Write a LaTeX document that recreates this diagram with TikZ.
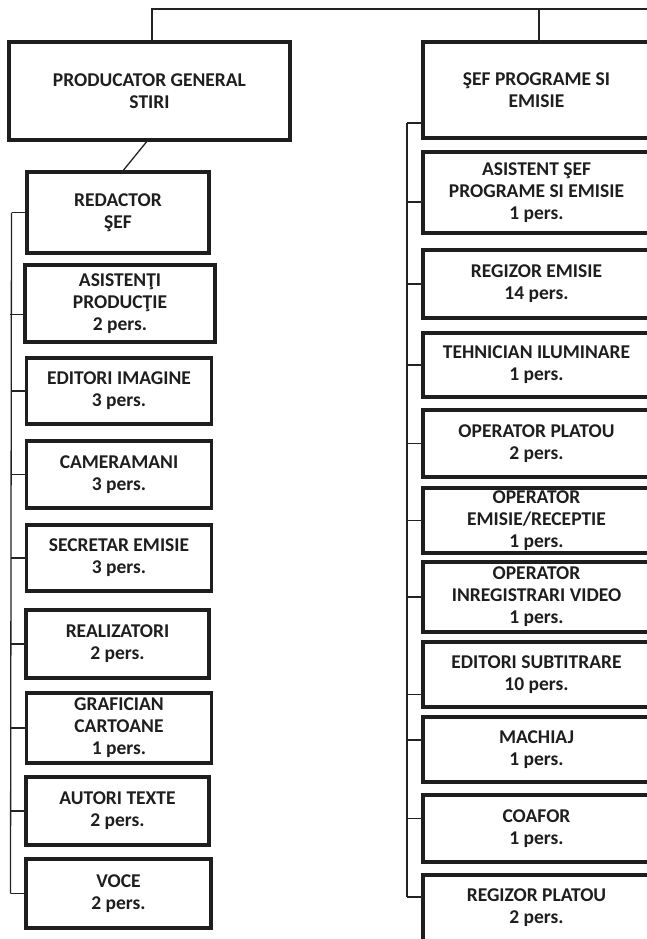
\documentclass[tikz,border=0pt]{standalone}
\usepackage{fontspec}
\setmainfont{Carlito}
\definecolor{boxc}{RGB}{30,30,30}
\definecolor{txtc}{RGB}{30,30,30}
\definecolor{linec}{RGB}{35,35,35}
\begin{document}
\begin{tikzpicture}[x=1pt,y=-1pt,
  box/.style={draw=boxc, line width=3.2pt, outer sep=0pt, inner sep=0pt,
    align=center, text=txtc, font=\bfseries\fontsize{19.5}{22}\selectfont},
  lbox/.style={box, minimum width=185pt},
  rbox/.style={box, minimum width=227pt},
  conn/.style={draw=linec, line width=1.3pt}]
\useasboundingbox (0,0) rectangle (646,939);
\fill[white] (0,0) rectangle (646,939);

% top level
\node[box, minimum width=281pt, minimum height=98pt] (prod) at (149.5,91) {PRODUCATOR GENERAL\\STIRI};
\node[rbox, minimum height=96pt] (sef) at (536.5,90) {ŞEF PROGRAME SI\\EMISIE};

% left column
\node[lbox, minimum width=182pt, minimum height=81pt] (redactor) at (118,212.5) {REDACTOR\\ŞEF};
\node[lbox, minimum width=190pt, minimum height=77pt] (asist) at (120,303.5) {ASISTENŢI\\PRODUCŢIE\\2 pers.};
\node[lbox, minimum height=66pt] (editori) at (119,391) {EDITORI IMAGINE\\3 pers.};
\node[lbox, minimum height=67pt] (camera) at (119,474.5) {CAMERAMANI\\3 pers.};
\node[lbox, minimum height=66pt] (secretar) at (119,558) {SECRETAR EMISIE\\3 pers.};
\node[lbox, minimum width=183pt, minimum height=68pt] (realiz) at (117.5,644) {REALIZATORI\\2 pers.};
\node[lbox, minimum height=70pt] (grafic) at (119,728) {GRAFICIAN\\CARTOANE\\1 pers.};
\node[lbox, minimum width=183pt, minimum height=68pt] (autori) at (117.5,811) {AUTORI TEXTE\\2 pers.};
\node[lbox, minimum height=69pt] (voce) at (118.5,893.5) {VOCE\\2 pers.};

% right column
\node[rbox, minimum height=81pt] (asistsef) at (536.5,192.5) {ASISTENT ŞEF\\PROGRAME SI EMISIE\\1 pers.};
\node[rbox, minimum height=68pt] (regizor) at (536.5,284) {REGIZOR EMISIE\\14 pers.};
\node[rbox, minimum height=64pt] (tehnician) at (536.5,365) {TEHNICIAN ILUMINARE\\1 pers.};
\node[rbox, minimum height=67pt] (opplatou) at (536.5,443.5) {OPERATOR PLATOU\\2 pers.};
\node[rbox, minimum height=65pt] (opemisie) at (536.5,520.5) {OPERATOR\\EMISIE/RECEPTIE\\1 pers.};
\node[rbox, minimum height=70pt] (opinreg) at (536.5,597) {OPERATOR\\INREGISTRARI VIDEO\\1 pers.};
\node[rbox, minimum height=65pt] (editsub) at (536.5,674.5) {EDITORI SUBTITRARE\\10 pers.};
\node[rbox, minimum height=65pt] (machiaj) at (536.5,749.5) {MACHIAJ\\1 pers.};
\node[rbox, minimum height=67pt] (coafor) at (536.5,828.5) {COAFOR\\1 pers.};
\node[rbox, minimum height=66pt] (regplatou) at (536.5,908) {REGIZOR PLATOU\\2 pers.};

% top connector
\coordinate (topright) at (660,9);
\coordinate (pj) at ([xshift=2.5pt]prod.north);
\coordinate (sj) at ([xshift=2.5pt]sef.north);
\draw[conn] (pj) |- (topright);
\draw[conn] (sj) -- (sj |- topright);

% producator -> redactor
\draw[conn] ([xshift=-1.5pt]prod.south) -- ([xshift=4pt]redactor.north);

% left stubs and trunk
\foreach \n/\s in {redactor/0,asist/-11,editori/0,camera/0,secretar/0,realiz/0,grafic/0,autori/0,voce/0}{
  \draw[conn] ([yshift=\s pt]\n.west) -- ++(-15.5,0) coordinate (\n-j);
}
\draw[conn] (redactor-j) -- (voce-j);

% right stubs and trunk
\foreach \n/\s in {sef/-33,asistsef/-9.5,regizor/0,tehnician/0,opplatou/0,opemisie/0,opinreg/0,editsub/-20,machiaj/9.5,coafor/10,regplatou/11}{
  \draw[conn] ([yshift=\s pt]\n.west) -- ++(-16,0) coordinate (\n-j);
}
\draw[conn] (sef-j) -- (regplatou-j);
\end{tikzpicture}
\end{document}
